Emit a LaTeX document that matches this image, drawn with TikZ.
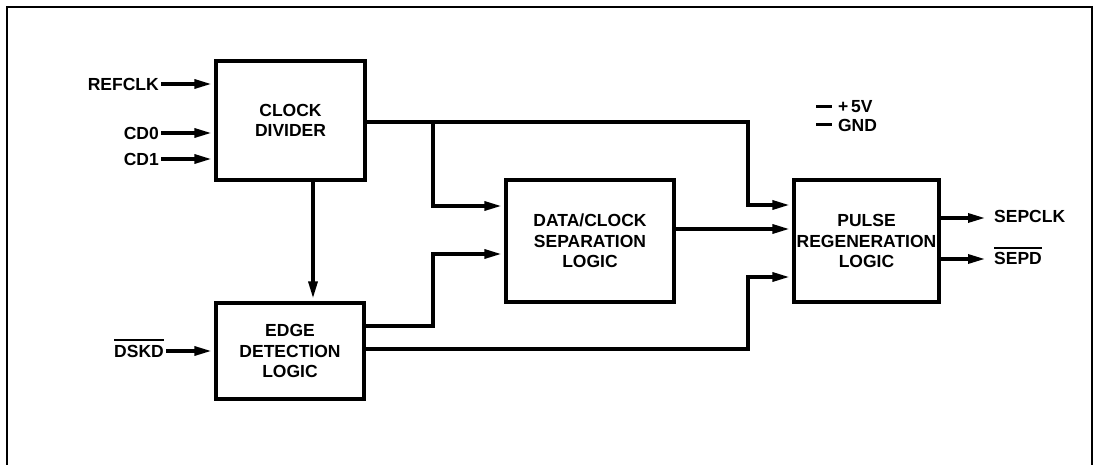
\documentclass[tikz,border=0pt]{standalone}
\usepackage{fontspec}
\setmainfont{Liberation Sans}
\usetikzlibrary{arrows.meta,calc}
\newcommand{\ovl}[1]{\leavevmode\vbox{\hrule height 1.4pt\kern 4pt\hbox{#1}}}
\tikzset{
  blk/.style={draw, line width=3.2pt, rectangle, inner sep=0pt, align=center,
    font=\fontsize{17.5}{20.5}\selectfont\bfseries},
  lbl/.style={inner sep=2pt, font=\fontsize{17.5}{20.5}\selectfont\bfseries},
  wire/.style={line width=3.2pt, line cap=rect},
  arr/.style={line width=3.2pt, -{Triangle[length=17pt,width=9pt]}, shorten >=3pt}
}
\begin{document}
\begin{tikzpicture}[x=1pt,y=-1pt]
\useasboundingbox (0,0) rectangle (1096,465);
% frame
\draw[line width=2.6pt] (7,468) -- (7,7) -- (1092,7) -- (1092,468);
% blocks
\node[blk, minimum width=149pt, minimum height=119pt] (cd) at (290.5,120.5) {CLOCK\\DIVIDER};
\node[blk, minimum width=148pt, minimum height=96pt] (ed) at (290,351) {EDGE\\DETECTION\\LOGIC};
\node[blk, minimum width=168pt, minimum height=122pt] (dc) at (590,241) {DATA/CLOCK\\SEPARATION\\LOGIC};
\node[blk, minimum width=145pt, minimum height=122pt] (pr) at (866.5,241) {PULSE\\REGENERATION\\LOGIC};
% input labels
\node[lbl, anchor=east] (refclk) at (161,84) {REFCLK};
\node[lbl, anchor=east] (cd0) at (161,133) {CD0};
\node[lbl, anchor=east] (cd1) at (161,159) {CD1};
\node[lbl, anchor=base east] (dskd) at (166,357) {\ovl{DSKD}};
% output labels
\node[lbl, anchor=west] (sepclk) at (992,216) {SEPCLK};
\node[lbl, anchor=base west] (sepd) at (992,265) {\ovl{SEPD}};
% supply
\node[lbl, anchor=west] (vcc) at (814,107) {\rule[0.3em]{16pt}{2.4pt}\,\,+\,5V};
\node[lbl, anchor=west] (gnd) at (814,125) {\rule[0.3em]{16pt}{2.4pt}\,\,GND};
% input arrows
\draw[arr] (refclk.east) -- (refclk.east -| cd.west);
\draw[arr] (cd0.east) -- (cd0.east -| cd.west);
\draw[arr] (cd1.east) -- (cd1.east -| cd.west);
\draw[arr] ([yshift=6pt]dskd.base east) -- ([yshift=6pt]dskd.base east -| ed.west);
% clock divider outputs
\coordinate (j1) at (433,122);
\coordinate (j2) at (748,122);
\draw[wire] ([yshift=-1.5pt]cd.east) -- (j1) -- (j2);
\draw[arr] (j2) |- ([yshift=36pt]pr.west);
\draw[arr] (j1) |- ([yshift=35pt]dc.west);
\draw[arr] ([xshift=22.5pt]cd.south) -- ([xshift=22.5pt]cd.south |- ed.north);
% edge detection outputs
\coordinate (k1) at (433,326);
\coordinate (k2) at (748,349);
\draw[wire] ([yshift=25pt]ed.east) -- (k1);
\draw[arr] (k1) |- ([yshift=-13pt]dc.west);
\draw[wire] ([yshift=2pt]ed.east) -- (k2);
\draw[arr] (k2) |- ([yshift=-36pt]pr.west);
% data/clock to pulse regen
\draw[arr] ([yshift=12pt]dc.east) -- ([yshift=12pt]pr.west);
% outputs
\coordinate (o1) at (988,218);
\coordinate (o2) at (988,259);
\draw[arr] ([yshift=23pt]pr.east) -- (o1);
\draw[arr] ([yshift=-18pt]pr.east) -- (o2);
\end{tikzpicture}
\end{document}
